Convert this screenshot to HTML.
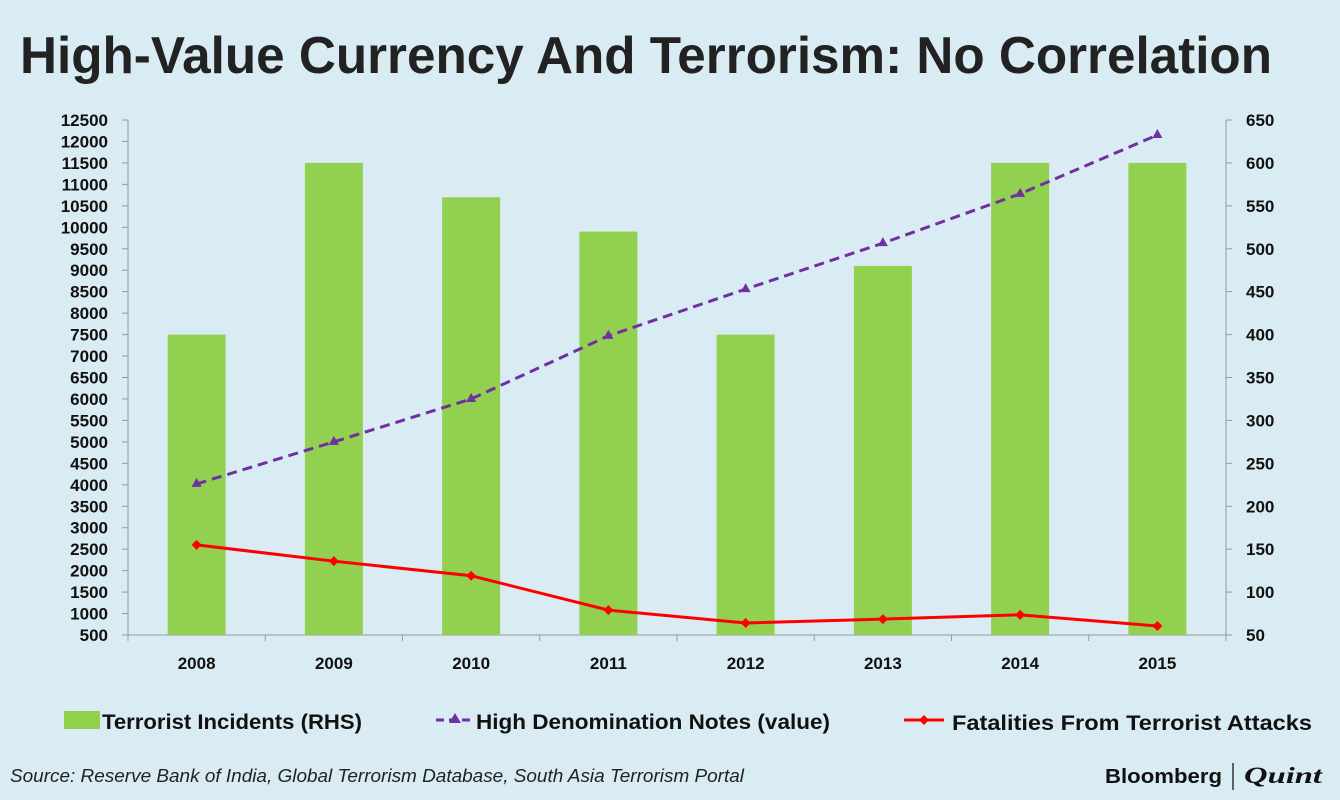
<!DOCTYPE html>
<html><head><meta charset="utf-8"><style>
body{margin:0;width:1340px;height:800px;background:#daecf3;font-family:"Liberation Sans",sans-serif;overflow:hidden}
</style></head><body>
<svg width="1340" height="800" style="position:absolute;left:0;top:0">
<text x="20" y="73" textLength="1252" lengthAdjust="spacingAndGlyphs" font-size="52" font-weight="bold" fill="#222">High-Value Currency And Terrorism: No Correlation</text>
<g id="plot"></g>
<g>
<rect x="64" y="711" width="36" height="18" fill="#92d050"/>
<text x="102" y="729" textLength="260" lengthAdjust="spacingAndGlyphs" font-size="21" font-weight="bold" fill="#111">Terrorist Incidents (RHS)</text>
<line x1="436" y1="720" x2="474" y2="720" stroke="#7030a0" stroke-width="3" stroke-dasharray="8,5"/>
<polygon points="455,713 461,723 449,723" fill="#7030a0"/>
<text x="476" y="729" textLength="354" lengthAdjust="spacingAndGlyphs" font-size="21" font-weight="bold" fill="#111">High Denomination Notes (value)</text>
<line x1="904" y1="720" x2="944" y2="720" stroke="#ff0000" stroke-width="3"/>
<polygon points="924,715 929,720 924,725 919,720" fill="#ff0000"/>
<text x="952" y="730" textLength="360" lengthAdjust="spacingAndGlyphs" font-size="21" font-weight="bold" fill="#111">Fatalities From Terrorist Attacks</text>
</g>
<text x="10" y="782" textLength="734" lengthAdjust="spacingAndGlyphs" font-size="18" font-style="italic" fill="#222">Source: Reserve Bank of India, Global Terrorism Database, South Asia Terrorism Portal</text>
<text x="1105" y="783" textLength="117" lengthAdjust="spacingAndGlyphs" font-size="20" font-weight="bold" fill="#111">Bloomberg</text>
<line x1="1233" y1="763" x2="1233" y2="790" stroke="#333" stroke-width="1.5"/>
<text x="1244" y="783" textLength="78" lengthAdjust="spacingAndGlyphs" font-size="23" font-weight="bold" font-style="italic" font-family="Liberation Serif,serif" fill="#111">Quint</text>
</svg>
<script>
const years=["2008","2009","2010","2011","2012","2013","2014","2015"];
const incidents=[400,600,560,520,400,480,600,600];
const notes=[4020,5000,6000,7470,8560,9630,10780,12150];
const fatalities=[2600,2220,1880,1080,780,870,970,710];
const leftTicks=[500,1000,1500,2000,2500,3000,3500,4000,4500,5000,5500,6000,6500,7000,7500,8000,8500,9000,9500,10000,10500,11000,11500,12000,12500];
const rightTicks=[50,100,150,200,250,300,350,400,450,500,550,600,650];
const NS="http://www.w3.org/2000/svg";
const g=document.getElementById('plot');
const X0=128,X1=1226,Y0=635,Y1=120;
const yL=v=>Y0-(v-500)/12000*(Y0-Y1);
const yR=v=>Y0-(v-50)/600*(Y0-Y1);
const step=(X1-X0)/years.length;
const xC=i=>X0+step*(i+0.5);
function el(t,a){const e=document.createElementNS(NS,t);for(const k in a)e.setAttribute(k,a[k]);g.appendChild(e);return e;}
let e=el('line',{x1:X0,y1:Y1,x2:X0,y2:Y0,stroke:'#999'});


e=el('line',{x1:X1,y1:Y1,x2:X1,y2:Y0,stroke:'#999'});


e=el('line',{x1:X0-6,y1:Y0,x2:X1,y2:Y0,stroke:'#999'});


leftTicks.forEach(v=>{const y=yL(v);el('line',{x1:X0-6,y1:y,x2:X0,y2:y,stroke:'#999'});
 const t=el('text',{x:X0-20,y:y+6,'text-anchor':'end','font-size':17,'font-weight':'bold',fill:'#111'});t.textContent=v;
 
 });
rightTicks.forEach(v=>{const y=yR(v);el('line',{x1:X1,y1:y,x2:X1+6,y2:y,stroke:'#999'});
 const t=el('text',{x:X1+20,y:y+6,'font-size':17,'font-weight':'bold',fill:'#111'});t.textContent=v;
 
 });
for(let i=0;i<=years.length;i++){const x=X0+step*i;el('line',{x1:x,y1:Y0,x2:x,y2:Y0+6,stroke:'#999'});}
years.forEach((y,i)=>{const t=el('text',{x:xC(i),y:Y0+34,'text-anchor':'middle','font-size':17,'font-weight':'bold',fill:'#111'});t.textContent=y;
 
 });
incidents.forEach((v,i)=>{const b=el('rect',{x:xC(i)-29,y:yR(v),width:58,height:Y0-yR(v),fill:'#92d050'});
 
 });
const np=notes.map((v,i)=>xC(i)+','+yL(v)).join(' ');
e=el('polyline',{points:np,fill:'none',stroke:'#7030a0','stroke-width':3,'stroke-dasharray':'10,6'});


notes.forEach((v,i)=>{const x=xC(i),y=yL(v);const p=el('polygon',{points:`${x},${y-6} ${x+5},${y+3} ${x-5},${y+3}`,fill:'#7030a0'});
 
 });
const fp=fatalities.map((v,i)=>xC(i)+','+yL(v)).join(' ');
e=el('polyline',{points:fp,fill:'none',stroke:'#ff0000','stroke-width':3});


fatalities.forEach((v,i)=>{const x=xC(i),y=yL(v);const p=el('polygon',{points:`${x},${y-5} ${x+5},${y} ${x},${y+5} ${x-5},${y}`,fill:'#ff0000'});
 
 });
</script>
</body></html>
